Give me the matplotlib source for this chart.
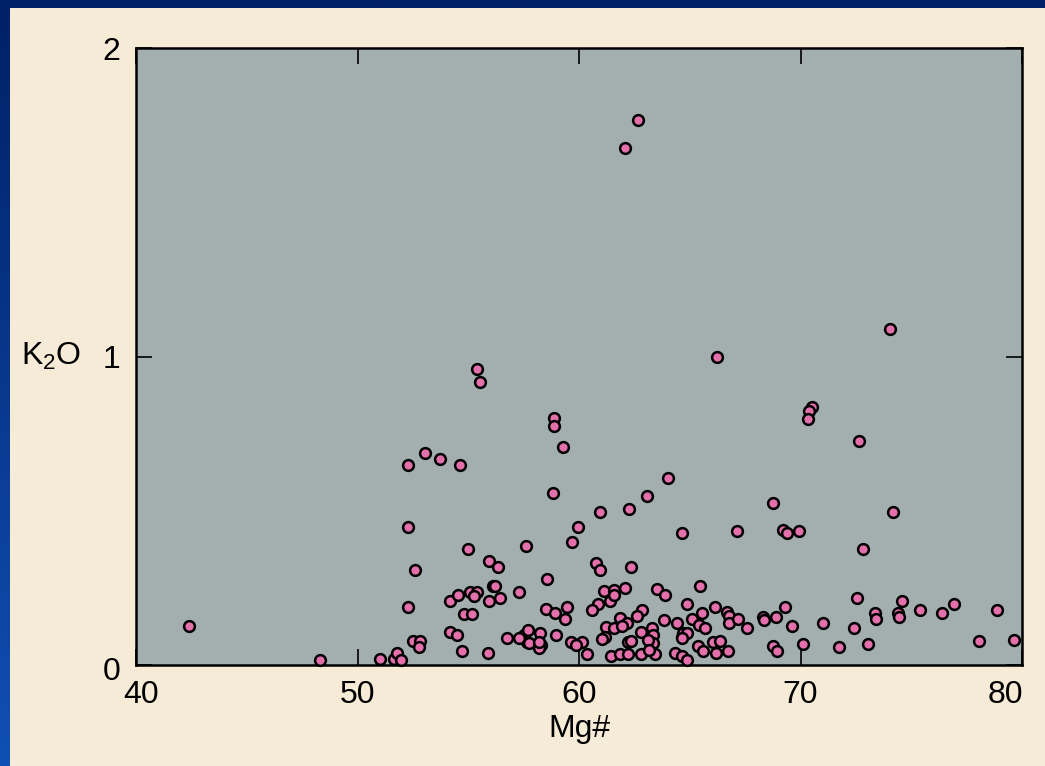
import numpy as np
import matplotlib
matplotlib.use('Agg')
import matplotlib.pyplot as plt
from matplotlib.patches import Rectangle
from matplotlib.transforms import ScaledTranslation

plt.rcParams['font.family'] = ['Liberation Sans', 'DejaVu Sans']
plt.rcParams['mathtext.fontset'] = 'custom'
plt.rcParams['mathtext.rm'] = 'Liberation Sans'
plt.rcParams['mathtext.it'] = 'Liberation Sans'

# Mg# values
mg = [
    42.4, 48.3, 51.0, 51.65, 51.8, 51.95, 52.3, 52.3, 52.3, 52.6,
    52.52, 52.82, 52.78, 53.05, 53.72, 54.64, 54.18, 54.55, 54.18, 54.5,
    54.7, 54.8, 55.16, 55.0, 55.1, 55.4, 55.27, 55.4, 55.55, 55.95,
    56.36, 56.1, 56.2, 55.95, 56.43, 55.9, 56.76, 57.3, 57.6, 57.5,
    57.64, 57.3, 57.71, 58.24, 57.74, 58.28, 58.19, 58.2, 58.96, 58.55,
    58.5, 58.92, 59.47, 59.37, 58.84, 58.87, 58.87, 59.29, 59.94, 59.68,
    59.64, 60.15, 59.85, 60.37, 60.75, 60.95, 60.96, 60.87, 61.4, 60.57,
    61.15, 61.6, 62.08, 61.6, 61.23, 61.59, 61.17, 61.05, 61.85, 62.15,
    61.93, 61.44, 61.85, 62.22, 62.22, 62.35, 62.26, 62.35, 62.09, 62.65,
    62.83, 62.63, 62.8, 63.28, 63.35, 63.35, 63.1, 62.78, 63.43, 63.16,
    63.08, 63.52, 63.88, 63.82, 64.03, 64.33, 64.44, 64.64, 64.64, 64.71,
    64.86, 64.86, 64.64, 64.64, 64.89, 65.09, 65.4, 65.69, 65.46, 65.54,
    65.39, 65.58, 66.14, 66.06, 66.37, 66.18, 66.74, 66.25, 66.67, 66.79,
    66.79, 67.2, 67.12, 67.57, 68.32, 68.35, 68.9, 69.3, 68.74, 68.77,
    68.95, 69.22, 69.4, 69.95, 69.6, 70.12, 70.5, 70.4, 70.33, 71.0,
    71.75, 72.43, 72.56, 72.64, 72.84, 73.06, 73.36, 73.39, 74.04, 74.16,
    74.42, 74.45, 74.59, 75.4, 76.37, 76.94, 78.06, 78.86, 79.65,
]

# K2O values, same order as mg
k2o = [
    0.126, 0.016, 0.019, 0.018, 0.038, 0.016, 0.648, 0.448, 0.187, 0.307,
    0.078, 0.078, 0.057, 0.686, 0.667, 0.648, 0.207, 0.227, 0.107, 0.096,
    0.046, 0.166, 0.166, 0.376, 0.238, 0.238, 0.224, 0.958, 0.916, 0.337,
    0.317, 0.255, 0.257, 0.206, 0.216, 0.038, 0.086, 0.238, 0.387, 0.096,
    0.076, 0.086, 0.113, 0.105, 0.072, 0.065, 0.054, 0.076, 0.097, 0.278,
    0.18, 0.168, 0.187, 0.148, 0.556, 0.8, 0.776, 0.707, 0.448, 0.398,
    0.076, 0.076, 0.065, 0.036, 0.33, 0.308, 0.497, 0.199, 0.207, 0.178,
    0.24, 0.243, 0.249, 0.227, 0.122, 0.119, 0.092, 0.083, 0.151, 0.137,
    0.126, 0.029, 0.036, 0.036, 0.076, 0.079, 0.507, 0.317, 1.677, 1.768,
    0.178, 0.159, 0.108, 0.119, 0.097, 0.072, 0.081, 0.036, 0.036, 0.049,
    0.548, 0.247, 0.227, 0.146, 0.607, 0.038, 0.135, 0.427, 0.092, 0.103,
    0.198, 0.105, 0.086, 0.029, 0.016, 0.148, 0.13, 0.119, 0.257, 0.168,
    0.062, 0.046, 0.187, 0.076, 0.079, 0.038, 0.046, 0.997, 0.171, 0.159,
    0.135, 0.148, 0.435, 0.119, 0.157, 0.146, 0.157, 0.187, 0.526, 0.062,
    0.046, 0.438, 0.427, 0.435, 0.127, 0.068, 0.837, 0.824, 0.796, 0.137,
    0.057, 0.119, 0.216, 0.726, 0.376, 0.068, 0.168, 0.148, 1.089, 0.497,
    0.168, 0.157, 0.207, 0.178, 0.168, 0.198, 0.078, 0.178, 0.081,
]

x_ticks = [40, 50, 60, 70, 80]
y_ticks = [0, 1, 2]

fig = plt.figure(figsize=(10.45, 7.66), dpi=100)

# blue frame with a slight gradient, then the beige panel
bg = fig.add_axes([0, 0, 1, 1], zorder=-10)
grad = np.linspace(0, 1, 256).reshape(-1, 1)
cmap = matplotlib.colors.LinearSegmentedColormap.from_list('frame', ['#1050b4', '#002066'])
bg.imshow(grad, aspect='auto', cmap=cmap, extent=[0, 1, 0, 1], origin='lower')
bg.add_patch(Rectangle((10 / 1045, 0), 1, 1 - 8 / 766, facecolor='#f6ebd6', edgecolor='none'))
bg.set_xlim(0, 1)
bg.set_ylim(0, 1)
bg.axis('off')

ax = fig.add_axes([136 / 1045, 101 / 766, 886 / 1045, 617 / 766])
ax.set_facecolor('#a3aeae')

ax.scatter(mg, k2o, s=60, c='#e36fab', edgecolors='black', linewidths=1.8, zorder=3, clip_on=False)

ax.set_xlim(40, 80)
ax.set_ylim(0, 2)
ax.set_xticks(x_ticks)
ax.set_yticks(y_ticks)
ax.tick_params(direction='in', length=11.5, width=1.2, color='black',
               top=True, right=True, labelsize=23, pad=11)
for s in ax.spines.values():
    s.set_linewidth(1.8)

# end labels sit a little inside the frame, as in the original
xl = ax.get_xticklabels()
xl[0].set_transform(xl[0].get_transform() + ScaledTranslation(5 / 100, 0, fig.dpi_scale_trans))
xl[-1].set_transform(xl[-1].get_transform() + ScaledTranslation(-17 / 100, 0, fig.dpi_scale_trans))
yl = ax.get_yticklabels()
yl[0].set_transform(yl[0].get_transform() + ScaledTranslation(0, -3 / 100, fig.dpi_scale_trans))

ax.set_xlabel('Mg#', fontsize=23)
ax.xaxis.set_label_coords(0.5, -0.103)
ax.xaxis.label.set_va('center')
ax.set_ylabel(r'$\mathregular{K_2O}$', fontsize=23, rotation=0)
ax.yaxis.set_label_coords(-0.096, 0.5)
ax.yaxis.label.set_va('center')
ax.yaxis.label.set_ha('center')

plt.savefig('out.png', dpi=100, facecolor=fig.get_facecolor())
